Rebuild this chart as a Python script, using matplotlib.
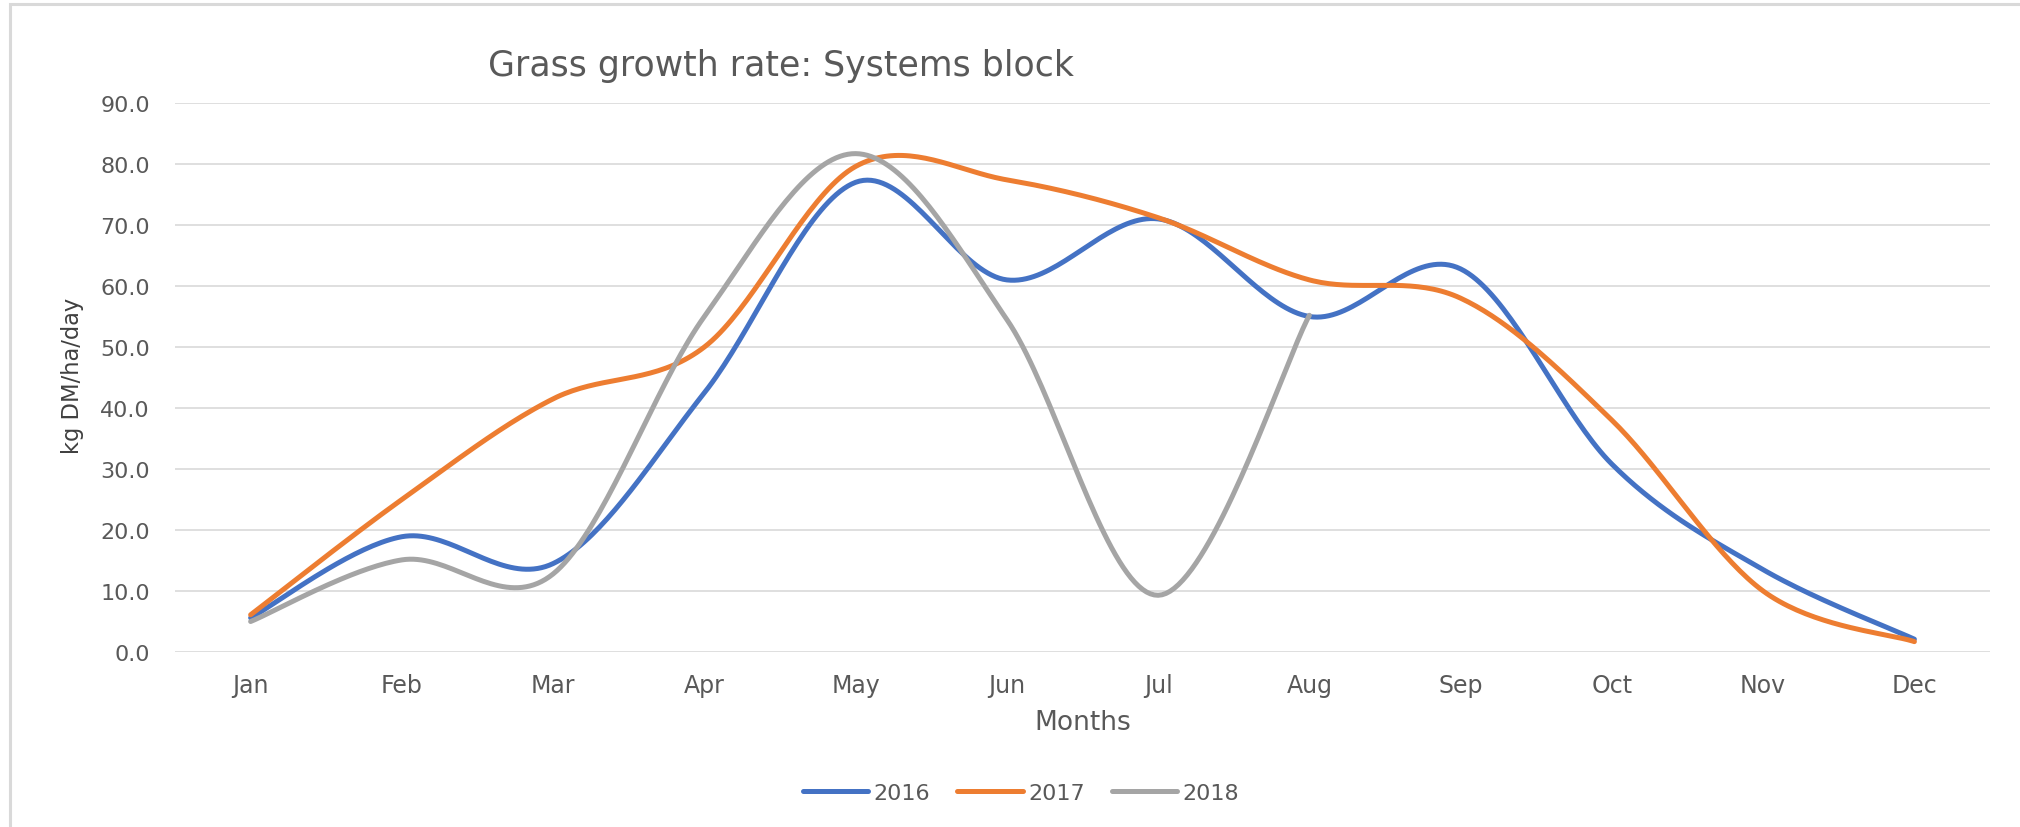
import numpy as np
import matplotlib
matplotlib.use('Agg')
import matplotlib.pyplot as plt
from matplotlib.patches import Rectangle

# Datos (kg DM/ha/day)
months = ['Jan', 'Feb', 'Mar', 'Apr', 'May', 'Jun', 'Jul', 'Aug', 'Sep', 'Oct', 'Nov', 'Dec']
growth_2016 = [5.6, 18.9, 14.5, 42.5, 77.0, 61.0, 71.0, 55.0, 62.8, 30.8, 13.5, 2.1]
growth_2017 = [6.1, 25.0, 41.5, 50.0, 79.6, 77.4, 71.2, 61.0, 58.0, 38.0, 10.0, 1.7]
growth_2018 = [5.0, 15.1, 12.8, 55.0, 81.7, 54.5, 9.3, 55.2]

series = [('2016', growth_2016, '#4472C4'),
          ('2017', growth_2017, '#ED7D31'),
          ('2018', growth_2018, '#A5A5A5')]

text_color = '#595959'


# Curva suavizada tipo Excel (Bezier a partir de los puntos vecinos)
def smooth(values, steps=40):
    x = np.arange(len(values), dtype=float)
    y = np.asarray(values, dtype=float)
    px = np.concatenate([[x[0]], x, [x[-1]]])
    py = np.concatenate([[y[0]], y, [y[-1]]])
    t = np.linspace(0, 1, steps)
    xs, ys = [], []
    for i in range(len(values) - 1):
        p0 = np.array([px[i + 1], py[i + 1]])
        p3 = np.array([px[i + 2], py[i + 2]])
        c1 = p0 + (p3 - np.array([px[i], py[i]])) / 6
        c2 = p3 - (np.array([px[i + 3], py[i + 3]]) - p0) / 6
        b = ((1 - t) ** 3)[:, None] * p0 + (3 * (1 - t) ** 2 * t)[:, None] * c1 \
            + (3 * (1 - t) * t ** 2)[:, None] * c2 + (t ** 3)[:, None] * p3
        xs.append(b[:, 0])
        ys.append(b[:, 1])
    return np.concatenate(xs), np.concatenate(ys)


fig = plt.figure(figsize=(20.2, 8.28), dpi=100)
ax = fig.add_axes([175 / 2020, 1 - 653 / 828, (1990 - 175) / 2020, (653 - 104) / 828])

for label, values, color in series:
    xs, ys = smooth(values)
    ax.plot(xs, ys, color=color, lw=3.6, label=label, solid_capstyle='round')

ax.set_xlim(-0.5, len(months) - 0.5)
ax.set_ylim(0, 90)
ax.set_yticks(np.arange(0, 91, 10))
ax.set_yticklabels([f'{v:.1f}' for v in np.arange(0, 91, 10)])
ax.set_xticks(range(len(months)))
ax.set_xticklabels(months)
ax.tick_params(axis='y', length=0, pad=18, labelsize=16, labelcolor=text_color)
ax.tick_params(axis='x', length=0, pad=15, labelsize=17, labelcolor=text_color)
ax.grid(axis='y', color='#D9D9D9', lw=1.2)
ax.set_axisbelow(True)
for s in ax.spines.values():
    s.set_visible(False)

# Textos
fig.text(488 / 2020, 1 - 66 / 828, 'Grass growth rate: Systems block',
         ha='left', va='center', fontsize=25, color=text_color)
fig.text(73 / 2020, 1 - 376 / 828, 'kg DM/ha/day', rotation=90,
         ha='center', va='center', fontsize=16.3, color='#404040')
fig.text(1083 / 2020, 1 - 723 / 828, 'Months', ha='center', va='center',
         fontsize=19, color=text_color)

leg = fig.legend(loc='center', bbox_to_anchor=(1021 / 2020, 1 - 794 / 828), ncol=3,
                 frameon=False, fontsize=16, handlelength=2.95, handletextpad=0.25,
                 columnspacing=1.2)
for t in leg.get_texts():
    t.set_color(text_color)

# Borde del area del grafico
fig.patches.append(Rectangle((10 / 2020, -0.1), 1.1, 1.1 - 5 / 828, transform=fig.transFigure,
                             fill=False, edgecolor='#D9D9D9', lw=2.2, clip_on=False))

fig.savefig('out.png', dpi=100)
